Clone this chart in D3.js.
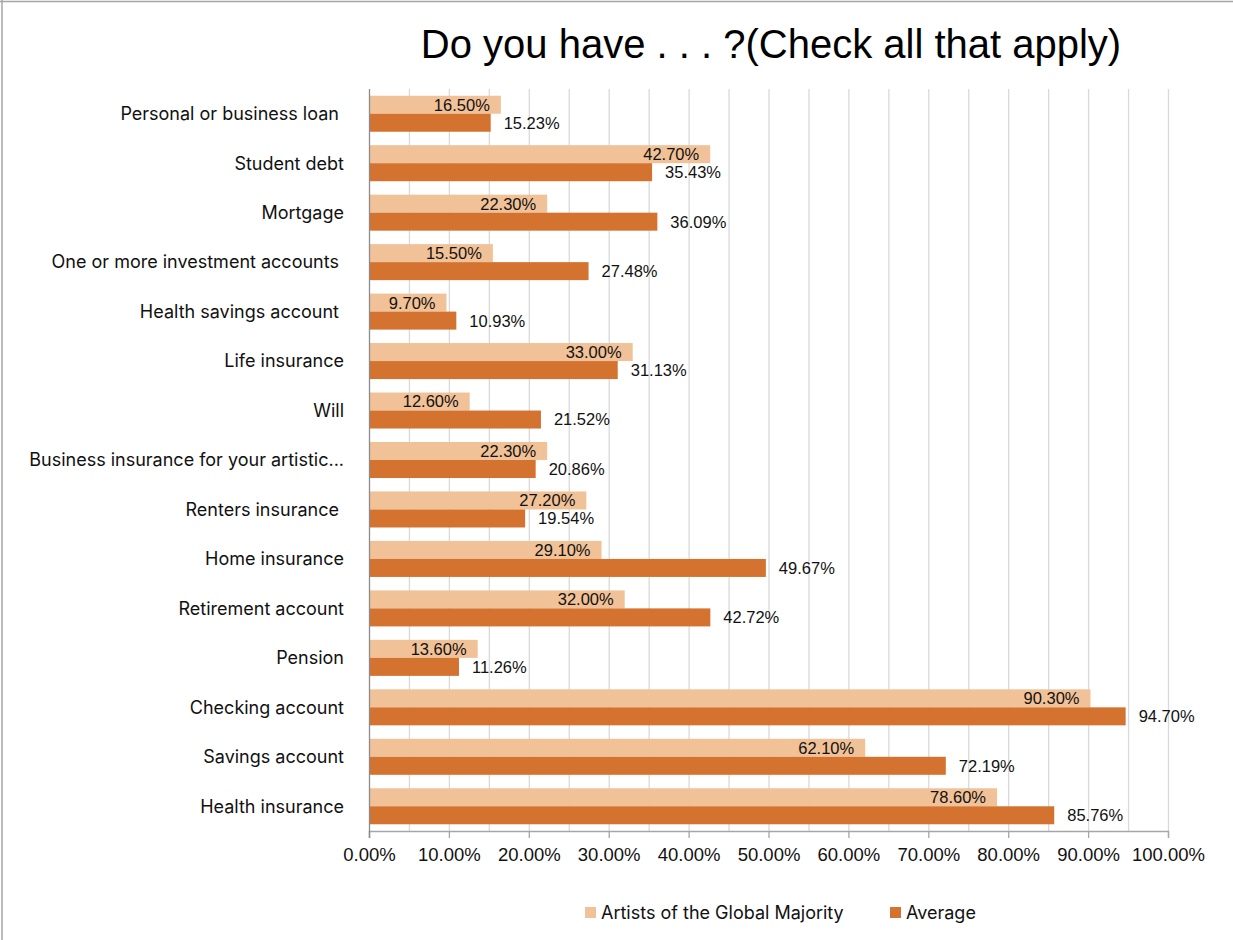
<!DOCTYPE html>
<html>
<head>
<meta charset="utf-8">
<script src="https://cdn.jsdelivr.net/npm/d3@7"></script>
<style>
  html, body { margin: 0; padding: 0; background: #fff; }
  svg { display: block; }
  .cat { white-space: pre; }
</style>
</head>
<body>
<svg id="chart" width="1233" height="940"></svg>
<script>
// Survey categories, top to bottom
const categories = [
  "Personal or business loan ",
  "Student debt",
  "Mortgage",
  "One or more investment accounts ",
  "Health savings account ",
  "Life insurance",
  "Will",
  "Business insurance for your artistic...",
  "Renters insurance ",
  "Home insurance",
  "Retirement account",
  "Pension",
  "Checking account",
  "Savings account",
  "Health insurance"
];

// Share of respondents (%) per series
const globalMajority = [16.5, 42.7, 22.3, 15.5, 9.7, 33.0, 12.6, 22.3, 27.2, 29.1, 32.0, 13.6, 90.3, 62.1, 78.6];
const average = [15.23, 35.43, 36.09, 27.48, 10.93, 31.13, 21.52, 20.86, 19.54, 49.67, 42.72, 11.26, 94.70, 72.19, 85.76];

const seriesNames = ["Artists of the Global Majority", "Average"];
const seriesColors = ["#F1C197", "#D47230"];

const xTicks = [0, 10, 20, 30, 40, 50, 60, 70, 80, 90, 100];
const gridValues = d3.range(5, 101, 5);

const titleText = "Do you have . . . ?(Check all that apply)";

const svg = d3.select("#chart");
const W = 1233, H = 940;

const plot = { left: 369, right: 1168, top: 89, bottom: 831 };

const x = d3.scaleLinear().domain([0, 100]).range([plot.left, plot.right]);
const y = d3.scaleBand().domain(categories).range([plot.top, plot.bottom])
  .paddingInner(0.272).paddingOuter(0.136);
const ySub = d3.scaleBand().domain(seriesNames).range([0, y.bandwidth()]);

const fmt = v => v.toFixed(2) + "%";

// frame
svg.append("line").attr("x1", 0).attr("x2", W).attr("y1", 1.5).attr("y2", 1.5)
  .attr("stroke", "#a6a6a6").attr("stroke-width", 1.5);
svg.append("line").attr("x1", 2).attr("x2", 2).attr("y1", 0).attr("y2", H)
  .attr("stroke", "#a6a6a6").attr("stroke-width", 1.5);

// title
svg.append("text")
  .attr("x", 771).attr("y", 58)
  .attr("text-anchor", "middle")
  .attr("font-family", "'Liberation Sans', Arial, sans-serif")
  .attr("font-size", 40)
  .attr("fill", "#000")
  .text(titleText);

// vertical gridlines
svg.append("g").selectAll("line").data(gridValues).join("line")
  .attr("x1", d => x(d) + 0.5).attr("x2", d => x(d) + 0.5)
  .attr("y1", plot.top).attr("y2", plot.bottom)
  .attr("stroke", "#d9d9d9").attr("stroke-width", 1.3);

// bottom axis
const xAxis = d3.axisBottom(x).tickValues(xTicks).tickFormat(d => d.toFixed(2) + "%")
  .tickSize(7).tickPadding(10);
const gx = svg.append("g").attr("transform", `translate(0,${plot.bottom})`).call(xAxis);
gx.select(".domain").attr("stroke", "#a6a6a6").attr("stroke-width", 1.3);
gx.selectAll(".tick line").attr("stroke", "#a6a6a6").attr("stroke-width", 1.3);
gx.selectAll(".tick text")
  .attr("font-family", "'Liberation Sans', Arial, sans-serif")
  .attr("font-size", 18.5).attr("fill", "#111");

// category labels
svg.append("g").selectAll("text").data(categories).join("text")
  .attr("class", "cat")
  .attr("x", 344)
  .attr("y", d => y(d) + y.bandwidth() / 2)
  .attr("dy", "0.35em")
  .attr("text-anchor", "end")
  .attr("font-family", "Inter, 'Liberation Sans', sans-serif")
  .attr("font-size", 18)
  .attr("fill", "#111")
  .text(d => d);

// bars
const rows = categories.map((c, i) => ({ c, vals: [globalMajority[i], average[i]] }));
const groups = svg.append("g").selectAll("g").data(rows).join("g")
  .attr("transform", d => `translate(0,${y(d.c)})`);

groups.selectAll("rect").data(d => d.vals.map((v, k) => ({ v, k }))).join("rect")
  .attr("x", x(0))
  .attr("y", d => ySub(seriesNames[d.k]))
  .attr("width", d => x(d.v) - x(0))
  .attr("height", ySub.bandwidth())
  .attr("fill", d => seriesColors[d.k]);

// value labels: inside end for the first series, outside end for the second
groups.selectAll("text").data(d => d.vals.map((v, k) => ({ v, k }))).join("text")
  .attr("x", d => d.k === 0 ? x(d.v) - 11 : x(d.v) + 13)
  .attr("y", d => ySub(seriesNames[d.k]) + ySub.bandwidth() / 2)
  .attr("dy", "0.36em")
  .attr("text-anchor", d => d.k === 0 ? "end" : "start")
  .attr("font-family", "'Liberation Sans', Arial, sans-serif")
  .attr("font-size", 16.5)
  .attr("fill", "#111")
  .text(d => fmt(d.v));

// left axis line
svg.append("line")
  .attr("x1", plot.left + 0.5).attr("x2", plot.left + 0.5)
  .attr("y1", plot.top).attr("y2", plot.bottom + 7)
  .attr("stroke", "#8c8c8c").attr("stroke-width", 1.3);

// legend
const legendItems = [
  { name: seriesNames[0], color: seriesColors[0], x: 585 },
  { name: seriesNames[1], color: seriesColors[1], x: 890 }
];
const lg = svg.append("g").selectAll("g").data(legendItems).join("g")
  .attr("transform", d => `translate(${d.x},907)`);
lg.append("rect").attr("width", 11).attr("height", 11).attr("fill", d => d.color);
lg.append("text").attr("x", 16).attr("y", 5.5).attr("dy", "0.36em")
  .attr("font-family", "Inter, 'Liberation Sans', sans-serif")
  .attr("font-size", 18).attr("fill", "#111")
  .text(d => d.name);
</script>
</body>
</html>
